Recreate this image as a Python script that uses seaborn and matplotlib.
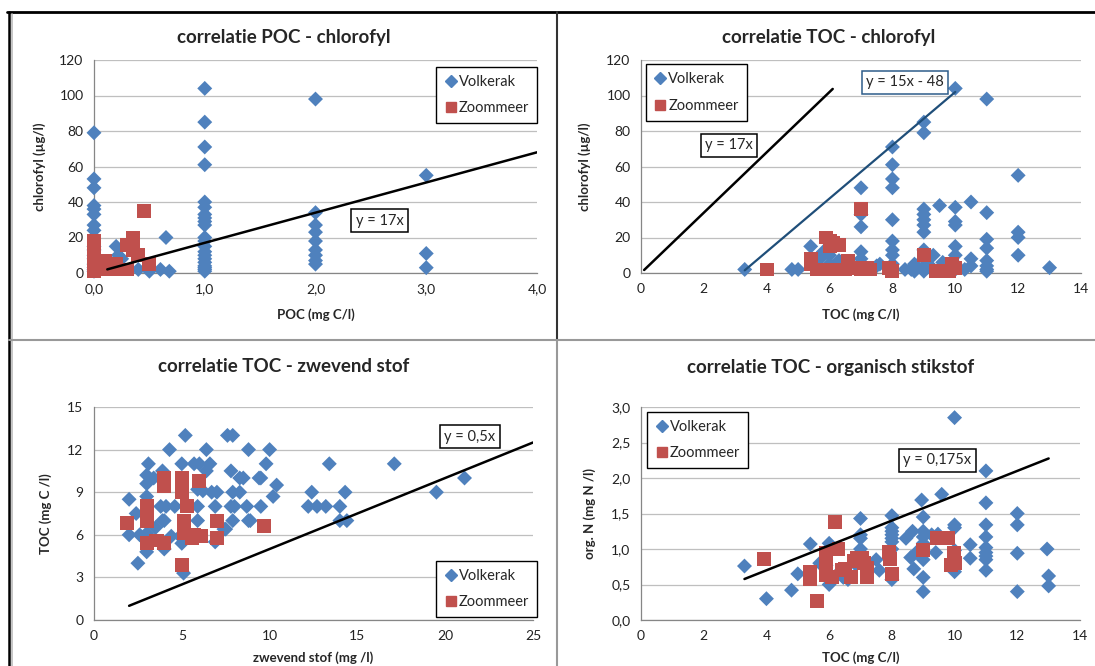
import matplotlib
matplotlib.use("Agg")
import matplotlib.pyplot as plt
import numpy as np
import pandas as pd
import seaborn as sns
from matplotlib.lines import Line2D
from matplotlib.ticker import FuncFormatter, MultipleLocator

"""
Correlaties Volkerak / Zoommeer: POC, TOC, chlorofyl, zwevend stof, organisch N
"""

BLUE = "#4F81BD"
RED = "#C0504D"

# --- POC - chlorofyl ---
poc_vk = [0, 0, 0, 0, 0, 0, 0, 0, 0, 0, 0, 0, 0, 0, 0, 0,
          0.2, 0.22, 0.25, 0.4, 0.5, 0.6, 0.65, 0.68,
          1, 1, 1, 1, 1, 1, 1, 1, 1, 1, 1, 1, 1, 1, 1, 1, 1, 1, 1, 1, 1,
          2, 2, 2, 2, 2, 2, 2, 2, 2,
          3, 3, 3]
chl_poc_vk = [79, 53, 48, 38, 36, 33, 27, 24, 15, 13, 10, 8, 5, 3, 2, 1,
              15, 10, 8, 2, 1, 2, 20, 1,
              104, 85, 71, 61, 40, 37, 33, 31, 29, 27, 20, 18, 15, 12, 10, 8, 6, 4, 3, 2, 1,
              98, 34, 27, 23, 18, 13, 10, 7, 5,
              55, 11, 3]
poc_zm = [0, 0, 0, 0, 0, 0, 0, 0, 0.1, 0.1, 0.1, 0.15, 0.2, 0.2, 0.25,
          0.3, 0.3, 0.35, 0.35, 0.4, 0.45, 0.5]
chl_poc_zm = [18, 14, 10, 7, 5, 3, 2, 1, 7, 5, 2, 3, 5, 2, 2,
              16, 2, 20, 13, 10, 35, 5]

# --- TOC - chlorofyl ---
toc_chl_vk = [3.3, 4.8, 5, 5.4, 5.5, 5.7, 5.8, 6, 6, 6.2, 6.3, 6.5,
              7, 7, 7, 7, 7, 7, 7.5, 7.6,
              8, 8, 8, 8, 8, 8, 8, 8, 8, 8, 8.4, 8.6, 8.7, 8.7,
              9, 9, 9, 9, 9, 9, 9, 9, 9, 9, 9, 9.2, 9.5, 9.3, 9.6,
              10, 10, 10, 10, 10, 10, 10, 10, 10.3, 10.5, 10.5, 10.5,
              11, 11, 11, 11, 11, 11, 11, 11, 12, 12, 12, 12, 13]
chl_toc_vk = [2, 2, 2, 15, 5, 8, 12, 10, 5, 3, 7, 3,
              48, 33, 26, 12, 8, 3, 4, 5,
              71, 61, 53, 48, 30, 18, 13, 10, 5, 2, 2, 2, 5, 1,
              85, 79, 36, 33, 30, 27, 23, 13, 8, 3, 1, 4, 38, 10, 6,
              104, 37, 29, 27, 15, 10, 5, 2, 2, 40, 8, 4,
              98, 34, 19, 14, 7, 4, 2, 1, 55, 23, 20, 10, 3]
toc_chl_zm = [4, 5.4, 5.4, 5.6, 5.9, 6, 6, 6.1, 6.3, 5.8, 6.2, 6.5, 6.6, 6.8,
              7, 7, 7.2, 7.9, 8, 9, 9.4, 9.8, 9.9, 10, 6.6, 7.3]
chl_toc_zm = [2, 8, 5, 2, 20, 15, 18, 17, 16, 2, 2, 2, 7, 3,
              36, 2, 3, 3, 1, 10, 1, 1, 5, 3, 3, 2]

# --- TOC - zwevend stof ---
zs_vk = [5.2, 7.6, 7.9, 4.3, 6.4, 8.8, 10, 3.1, 5.0, 5.7, 6.0, 6.6, 9.8,
         3.0, 3.4, 3.9, 6.4, 7.8, 8.3, 8.5, 9.5, 10.4, 3.0, 5.9, 6.2, 6.7, 7.0,
         7.9, 8.3, 10.2, 2.0, 2.4, 3.0, 3.8, 4.1, 4.6, 5.9, 6.9, 7.8, 8.0, 8.7,
         9.5, 3.9, 4.0, 5.9, 7.9, 8.8, 7.4, 2.0, 2.6, 3.0, 3.5, 4.4, 4.9, 5.0,
         3.0, 4.0, 2.5, 5.1, 6.9, 9.4, 8.9, 7.5,
         12.2, 12.4, 12.7, 13.2, 13.4, 14, 14, 14.3, 14.4, 17.1, 19.5, 21.1]
toc_zs_vk = [13, 13, 13, 12, 12, 12, 12, 11, 11, 11, 11, 11, 11,
             10.2, 10, 10.5, 10.5, 10.5, 10, 10, 10, 9.5, 9.6, 9.2, 9.1, 9, 9,
             9, 9, 8.7, 8.5, 7.5, 8.7, 8, 8, 8, 8, 8, 8, 8, 8,
             8, 7, 7, 7, 7, 7, 6.4, 6, 6, 6.1, 6.5, 5.9, 5.9, 5.4,
             4.8, 5, 4, 3.3, 5.5, 10, 7, 6.4,
             8, 9, 8, 8, 11, 8, 7, 9, 7, 11, 9, 10]
zs_zm = [1.9, 3.0, 3.0, 3.0, 3.0, 3.5, 4.0, 4.0, 4.0, 5.0, 5.0, 6.0, 5.3,
         5.1, 5.1, 5.1, 5.7, 6.1, 5.6, 7.0, 7.0, 9.7, 5.0, 3.6]
toc_zs_zm = [6.8, 8.0, 7.5, 7.0, 5.4, 5.6, 5.4, 10.0, 9.4, 10.0, 9.0, 9.8, 8.0,
             7.0, 6.4, 6.1, 6.0, 5.9, 5.8, 7.0, 5.8, 6.6, 3.9, 5.6]

# --- TOC - organisch stikstof ---
toc_n_vk = [3.3, 4.0, 4.8, 5.0, 5.4, 5.7, 6.0, 6.0, 6.45, 5.9, 6.2, 6.6,
            7.0, 7.0, 7.0, 7.0, 7.0, 6.85, 7.5, 7.6,
            8, 8, 8, 8, 8, 8, 8, 8.0, 8.45, 8.66, 8.6, 8.7, 8.8,
            8.95, 9, 9, 9, 9, 9, 9, 9, 9.27, 9.59, 9.4, 9.47,
            10, 10, 10, 10, 10, 10.5, 10.5,
            11, 11, 11, 11, 11, 11, 11, 11, 11, 12, 12, 12, 12, 12.95, 13, 13]
n_toc_vk = [0.76, 0.3, 0.42, 0.65, 1.07, 0.8, 1.08, 0.5, 0.6, 0.77, 0.62, 0.57,
            1.43, 1.2, 1.15, 1.0, 0.88, 0.78, 0.85, 0.7,
            1.47, 1.3, 1.25, 1.2, 1.15, 1.1, 1.0, 0.57, 1.15, 1.25, 0.88, 0.72, 0.96,
            1.69, 1.45, 1.25, 1.17, 1.08, 0.85, 0.6, 0.4, 1.2, 1.77, 0.95, 1.21,
            2.85, 1.34, 1.3, 0.98, 0.68, 1.06, 0.87,
            2.1, 1.65, 1.34, 1.17, 1.02, 0.95, 0.9, 0.85, 0.7, 1.5, 1.34, 0.94, 0.4,
            1.0, 0.62, 0.48]
toc_n_zm = [3.92, 5.4, 5.4, 5.6, 5.9, 5.9, 6.2, 6.3, 5.9, 6.1, 6.5, 6.7, 6.8,
            7.1, 6.9, 7.05, 7.2, 7.2, 7.9, 7.93, 8.0, 8.98, 9.43, 9.8, 9.99,
            10.0, 9.9, 6.4]
n_toc_zm = [0.86, 0.68, 0.58, 0.27, 0.94, 0.82, 1.38, 1.0, 0.64, 0.6, 0.72, 0.6,
            0.83, 0.8, 0.88, 0.88, 0.6, 0.74, 0.96, 0.86, 0.65, 0.99, 1.15, 1.15,
            0.95, 0.8, 0.78, 0.7]

LAKES = ["Volkerak", "Zoommeer"]


def frame(x_vk, y_vk, x_zm, y_zm):
    return pd.DataFrame({
        "x": list(x_vk) + list(x_zm),
        "y": list(y_vk) + list(y_zm),
        "meer": [LAKES[0]] * len(x_vk) + [LAKES[1]] * len(x_zm),
    })


def comma(decimals):
    return FuncFormatter(lambda v, p: f"{v:.{decimals}f}".replace(".", ","))


def style_axes(ax, xmax, xstep, ymax, ystep, xdec=0, ydec=0):
    ax.set_xlim(0, xmax)
    ax.set_ylim(0, ymax)
    ax.xaxis.set_major_locator(MultipleLocator(xstep))
    ax.yaxis.set_major_locator(MultipleLocator(ystep))
    ax.xaxis.set_major_formatter(comma(xdec))
    ax.yaxis.set_major_formatter(comma(ydec))
    ax.grid(axis="y", color="#BFBFBF", lw=0.9)
    ax.grid(axis="x", visible=False)
    ax.set_axisbelow(True)
    for s in ["top", "right"]:
        ax.spines[s].set_visible(False)
    for s in ["left", "bottom"]:
        ax.spines[s].set_color("#868686")
        ax.spines[s].set_linewidth(0.9)
    ax.tick_params(axis="both", direction="out", length=4, width=0.9,
                   color="#868686", labelsize=10, labelcolor="#222222")


def scatter(ax, df, legend_xy):
    sns.scatterplot(data=df, x="x", y="y", hue="meer", style="meer",
                    palette={LAKES[0]: BLUE, LAKES[1]: RED},
                    markers={LAKES[0]: "D", LAKES[1]: "s"},
                    size="meer", sizes={LAKES[0]: 58, LAKES[1]: 100},
                    edgecolor="none", linewidth=0, alpha=1, ax=ax,
                    zorder=3, clip_on=False)
    handles = [Line2D([], [], marker="D", ls="", color=BLUE, markersize=6),
               Line2D([], [], marker="s", ls="", color=RED, markersize=7.5)]
    leg = ax.legend(handles, LAKES, loc="upper left", bbox_to_anchor=legend_xy,
                    borderaxespad=0, fancybox=False, edgecolor="black",
                    framealpha=1, fontsize=10.5, handletextpad=0.1,
                    handlelength=0.9, labelspacing=0.85, borderpad=0.55)
    leg.get_frame().set_linewidth(1.0)
    leg.set_zorder(5)


def eq_box(ax, x, y, txt, edge="black"):
    ax.text(x, y, txt, ha="center", va="center", fontsize=10.5, zorder=6,
            bbox=dict(boxstyle="square,pad=0.3", fc="white", ec=edge, lw=1.1))


sns.set_theme(style="white")
plt.rcParams["font.family"] = ["Lato", "DejaVu Sans"]

fig = plt.figure(figsize=(10.95, 6.66), dpi=100)
W, H = 1095, 666


def axes_px(x0, x1, ytop, ybot):
    return fig.add_axes([x0 / W, 1 - ybot / H, (x1 - x0) / W, (ybot - ytop) / H])


ax1 = axes_px(94, 537, 60, 273)
ax2 = axes_px(641, 1081, 60, 273)
ax3 = axes_px(94, 533, 407, 620)
ax4 = axes_px(641, 1080, 407, 620)

# panel 1
scatter(ax1, frame(poc_vk, chl_poc_vk, poc_zm, chl_poc_zm), (0.773, 0.967))
x = np.array([0.12, 4.0])
ax1.plot(x, 17 * x, color="black", lw=1.8, zorder=4)
eq_box(ax1, 2.58, 29.5, "y = 17x")
style_axes(ax1, 4, 1, 120, 20, xdec=1)
ax1.set_xlabel("POC (mg C/l)", fontsize=9.5, fontweight="bold")
ax1.set_ylabel("chlorofyl (µg/l)", fontsize=9.5, fontweight="bold")

# panel 2
scatter(ax2, frame(toc_chl_vk, chl_toc_vk, toc_chl_zm, chl_toc_zm), (0.011, 0.98))
x = np.array([0.1, 6.1])
ax2.plot(x, 17 * x, color="black", lw=1.8, zorder=4)
x = np.array([3.3, 10.0])
ax2.plot(x, 15 * x - 48, color="#1F4E79", lw=1.6, zorder=4)
eq_box(ax2, 2.8, 72, "y = 17x")
eq_box(ax2, 8.4, 107.5, "y = 15x - 48", edge="#2E5C8A")
style_axes(ax2, 14, 2, 120, 20)
ax2.set_xlabel("TOC (mg C/l)", fontsize=9.5, fontweight="bold")
ax2.set_ylabel("chlorofyl (µg/l)", fontsize=9.5, fontweight="bold")

# panel 3
scatter(ax3, frame(zs_vk, toc_zs_vk, zs_zm, toc_zs_zm), (0.779, 0.277))
x = np.array([2.0, 25.0])
ax3.plot(x, 0.5 * x, color="black", lw=1.8, zorder=4)
eq_box(ax3, 21.4, 12.9, "y = 0,5x")
style_axes(ax3, 25, 5, 15, 3)
ax3.set_xlabel("zwevend stof (mg /l)", fontsize=9.5, fontweight="bold")
ax3.set_ylabel("TOC (mg C /l)", fontsize=9.5, fontweight="bold")

# panel 4
scatter(ax4, frame(toc_n_vk, n_toc_vk, toc_n_zm, n_toc_zm), (0.014, 0.977))
x = np.array([3.3, 13.0])
ax4.plot(x, 0.175 * x, color="black", lw=1.8, zorder=4)
eq_box(ax4, 9.45, 2.25, "y = 0,175x")
style_axes(ax4, 14, 2, 3, 0.5, ydec=1)
ax4.set_xlabel("TOC (mg C/l)", fontsize=9.5, fontweight="bold")
ax4.set_ylabel("org. N (mg N /l)", fontsize=9.5, fontweight="bold")

ax1.yaxis.set_label_coords(-0.109, 0.5)
ax2.yaxis.set_label_coords(-0.114, 0.5)
ax3.yaxis.set_label_coords(-0.096, 0.5)
ax4.yaxis.set_label_coords(-0.103, 0.5)
for ax in (ax1, ax2):
    ax.xaxis.set_label_coords(0.5, -0.165)
for ax in (ax3, ax4):
    ax.xaxis.set_label_coords(0.5, -0.148)

# titles, centred over each panel
titles = [("correlatie POC - chlorofyl", 284, 38),
          ("correlatie TOC - chlorofyl", 829, 38),
          ("correlatie TOC - zwevend stof", 284, 367),
          ("correlatie TOC - organisch stikstof", 831, 367)]
for t, px, py in titles:
    fig.text(px / W, 1 - py / H, t, ha="center", va="center",
             fontsize=13.5, fontweight="bold")

# panel borders
fig.add_artist(Line2D([0.006, 1], [1 - 12 / H] * 2, color="black", lw=2))
fig.add_artist(Line2D([9 / W] * 2, [0, 1 - 12 / H], color="black", lw=1.8))
fig.add_artist(Line2D([12 / W] * 2, [0, 1 - 14 / H], color="#BBBBBB", lw=1.2))
fig.add_artist(Line2D([557 / W] * 2, [1 - 340 / H, 1 - 12 / H], color="#333333", lw=1.5))
fig.add_artist(Line2D([557 / W] * 2, [0, 1 - 340 / H], color="#999999", lw=1.5))
fig.add_artist(Line2D([9 / W, 1], [1 - 340 / H] * 2, color="#999999", lw=1.5))

fig.savefig("out.png", dpi=100)
